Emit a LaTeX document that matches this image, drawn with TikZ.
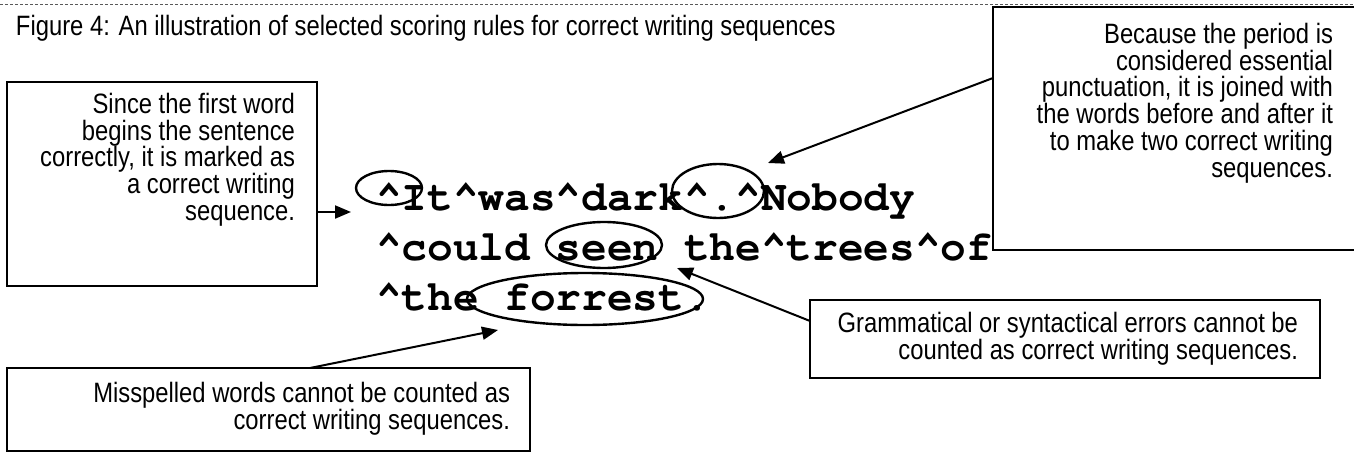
\documentclass[tikz,border=0pt]{standalone}
\usepackage[T1]{fontenc}
\usepackage{fontspec}
\usetikzlibrary{arrows.meta,shapes.geometric}
\newfontfamily\notefont[FakeStretch=0.85]{Liberation Sans}
\newcommand\notesize{\fontsize{28}{26.8}\selectfont}
\newcommand\samplefont{\fontencoding{T1}\fontfamily{pcr}\fontseries{b}\fontshape{n}\fontsize{42.8}{50}\selectfont}
\newcommand\crt{\textasciicircum}
\begin{document}
\begin{tikzpicture}[x=1pt,y=-1pt,
  every node/.style={inner sep=0pt, outer sep=0pt},
  notebox/.style={draw, line width=1.6pt, anchor=north west},
  notetext/.style={font=\notefont\notesize, align=right, anchor=north east},
  sample/.style={font=\samplefont, anchor=base west},
  ring/.style={draw, ellipse, line width=2.4pt},
  pointer/.style={line width=2pt, -{Triangle[length=16pt,width=13pt]}}]
\useasboundingbox (0,0) rectangle (1354,455);

% rule and caption
\draw[line width=0.8pt, gray!70!black, dash pattern=on 3pt off 2pt] (0,4) -- (1354,4);
\node[font=\notefont\notesize, anchor=base west] (title) at (16,35)
  {Figure 4: An illustration of selected scoring rules for correct writing sequences};

% comment boxes
\node[notebox, minimum width=310pt, minimum height=204pt] (leftbox) at (7,82) {};
\node[notebox, minimum width=380pt, minimum height=243pt] (rightbox) at (993,7) {};
\node[notebox, minimum width=510pt, minimum height=78pt] (grambox) at (810,300) {};
\node[notebox, minimum width=523pt, minimum height=83pt] (spellbox) at (7,368) {};

\node[notetext] (lefttext) at (295,93) {Since the first word\\begins the sentence\\correctly, it is marked as\\a correct writing\\sequence.};
\node[notetext] (righttext) at (1333,23) {Because the period is\\considered essential\\punctuation, it is joined with\\the words before and after it\\to make two correct writing\\sequences.};
\node[notetext] (gramtext) at (1298,312) {Grammatical or syntactical errors cannot be\\counted as correct writing sequences.};
\node[notetext] (spelltext) at (510,382) {Misspelled words cannot be counted as\\correct writing sequences.};

% the scored sample sentence
\node[sample] (line1) at (376,210) {\crt It\crt was\crt dark\crt.\crt Nobody};
\node[sample] (line2) at (376,260) {\crt could seen the\crt trees\crt of};
\node[sample] (line3) at (376,310) {\crt the forrest.};

% circled sequences
\node[ring, minimum width=66pt, minimum height=34pt] (capring) at (389,188) {};
\node[ring, minimum width=92pt, minimum height=54pt] (periodring) at (718,191) {};
\node[ring, minimum width=116pt, minimum height=46pt] (seenring) at (604,245) {};
\node[ring, minimum width=236pt, minimum height=52pt] (forrestring) at (585,299) {};

% pointers
\coordinate (captip) at (351,212);
\coordinate (periodtip) at (768,163);
\coordinate (periodfrom) at (993,78);
\coordinate (seentip) at (677,268);
\coordinate (seenfrom) at (810,321);
\coordinate (forresttip) at (498,330);
\coordinate (forrestfrom) at (310,368);

\draw[pointer] (leftbox.east |- captip) -- (captip);
\draw[pointer] (rightbox.west |- periodfrom) -- (periodtip);
\draw[pointer] (grambox.west |- seenfrom) -- (seentip);
\draw[pointer] (spellbox.north -| forrestfrom) -- (forresttip);
\end{tikzpicture}
\end{document}
